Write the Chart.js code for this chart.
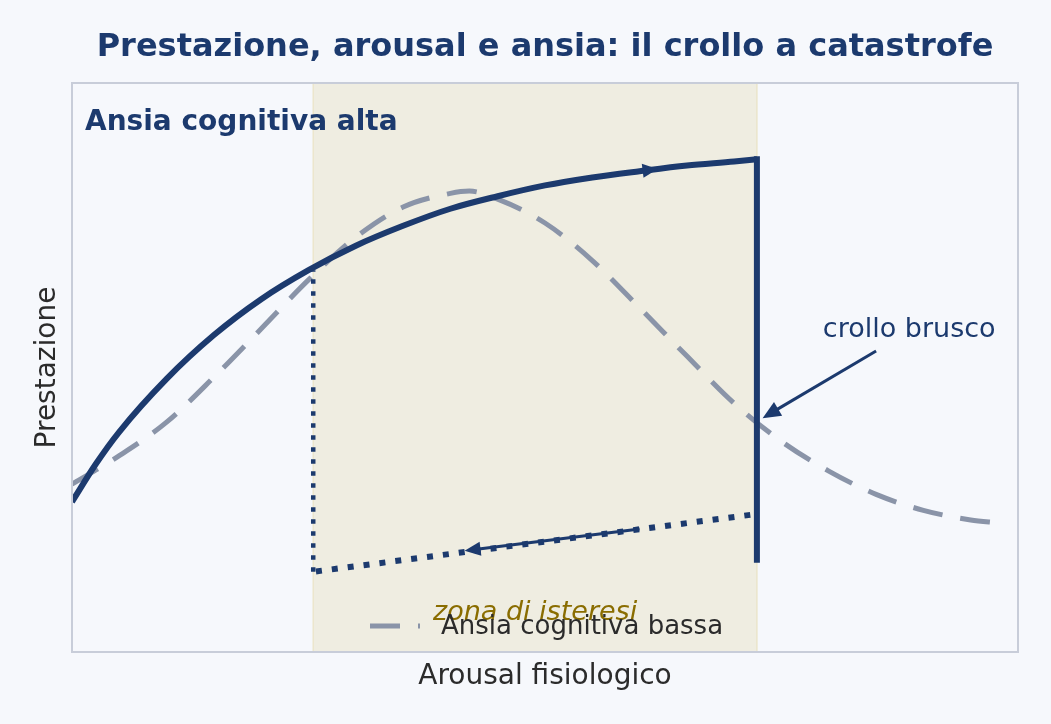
<!DOCTYPE html>
<html>
<head>
<meta charset="utf-8">
<script src="https://cdn.jsdelivr.net/npm/chart.js@4.4.1/dist/chart.umd.min.js"></script>
<style>
  html, body { margin: 0; padding: 0; background: #f6f8fc; }
  #wrap { width: 1051px; height: 724px; position: relative; }
</style>
</head>
<body>
<div id="wrap"><canvas id="chart"></canvas></div>
<script>
// dati (arousal 0-10, prestazione 0-1)
const arousalHigh = [0, 0.25, 0.5, 1.0, 1.5, 2.0, 2.5, 3.0, 3.5, 4.0, 4.5, 5.0, 5.5, 6.0, 6.5, 7.0, 7.24];
const perfHigh = [0.264, 0.330, 0.387, 0.480, 0.557, 0.620, 0.671, 0.714, 0.749, 0.779, 0.801, 0.820, 0.834, 0.845, 0.855, 0.862, 0.866];

const arousalCrash = [7.24, 7.24];
const perfCrash = [0.866, 0.162];

const arousalReturn = [7.17, 2.55];
const perfReturn = [0.241, 0.141];

const arousalJump = [2.55, 2.55];
const perfJump = [0.141, 0.671];

const arousalLow = [0, 0.5, 1.0, 1.5, 2.0, 2.5, 3.0, 3.5, 4.0, 4.2, 4.5, 5.0, 5.5, 6.0, 6.5, 7.0, 7.5, 8.0, 8.5, 9.0, 9.5, 9.79];
const perfLow = [0.295, 0.345, 0.404, 0.483, 0.568, 0.654, 0.729, 0.782, 0.806, 0.810, 0.796, 0.754, 0.688, 0.605, 0.520, 0.437, 0.370, 0.318, 0.277, 0.249, 0.232, 0.227];

const hysteresisZone = [2.55, 7.24];

const navy = '#1c3a6e';
const grey = '#8a94a8';
const font = '"DejaVu Sans", sans-serif';

function pts(xs, ys) {
    return xs.map((x, i) => ({ x: x, y: ys[i] }));
}

function arrowHead(ctx, x1, y1, x2, y2, len, half) {
    const a = Math.atan2(y2 - y1, x2 - x1);
    ctx.beginPath();
    ctx.moveTo(x2, y2);
    ctx.lineTo(x2 - len * Math.cos(a) + half * Math.sin(a), y2 - len * Math.sin(a) - half * Math.cos(a));
    ctx.lineTo(x2 - len * Math.cos(a) - half * Math.sin(a), y2 - len * Math.sin(a) + half * Math.cos(a));
    ctx.closePath();
    ctx.fill();
}

const overlay = {
    id: 'overlay',
    beforeDatasetsDraw(chart) {
        const ctx = chart.ctx;
        const area = chart.chartArea;
        const xs = chart.scales.x;
        ctx.save();
        ctx.fillStyle = '#efede1';
        const x0 = xs.getPixelForValue(hysteresisZone[0]);
        const x1 = xs.getPixelForValue(hysteresisZone[1]);
        ctx.fillRect(x0, area.top, x1 - x0, area.bottom - area.top);
        ctx.strokeStyle = '#ece6cc';
        ctx.lineWidth = 1.5;
        ctx.beginPath();
        ctx.moveTo(x0, area.top); ctx.lineTo(x0, area.bottom);
        ctx.moveTo(x1, area.top); ctx.lineTo(x1, area.bottom);
        ctx.stroke();
        ctx.restore();
    },
    afterDatasetsDraw(chart) {
        const ctx = chart.ctx;
        const area = chart.chartArea;
        const xs = chart.scales.x;
        const ys = chart.scales.y;
        const px = v => xs.getPixelForValue(v);
        const py = v => ys.getPixelForValue(v);
        ctx.save();
        ctx.fillStyle = navy;
        ctx.strokeStyle = navy;

        // freccia sulla curva alta
        arrowHead(ctx, px(6.0), py(0.845), px(6.19), py(0.849), 15, 7);

        // freccia sul ritorno
        ctx.lineWidth = 3;
        ctx.beginPath();
        ctx.moveTo(px(6.0), py(0.216));
        ctx.lineTo(px(4.3), py(0.181));
        ctx.stroke();
        arrowHead(ctx, px(6.0), py(0.216), px(4.15), py(0.178), 16, 7);

        // crollo brusco
        ctx.beginPath();
        ctx.moveTo(px(8.5), py(0.529));
        ctx.lineTo(px(7.45), py(0.426));
        ctx.stroke();
        arrowHead(ctx, px(8.5), py(0.529), px(7.30), py(0.411), 18, 8);

        ctx.textBaseline = 'middle';
        ctx.textAlign = 'center';
        ctx.font = '27px ' + font;
        ctx.fillText('crollo brusco', px(8.85), py(0.566));

        ctx.textAlign = 'left';
        ctx.font = 'bold 28px ' + font;
        ctx.fillText('Ansia cognitiva alta', area.left + 13, area.top + 40);

        ctx.textAlign = 'center';
        ctx.fillStyle = '#8a6d00';
        ctx.font = 'italic 27px ' + font;
        ctx.fillText('zona di isteresi', px((hysteresisZone[0] + hysteresisZone[1]) / 2), py(0.0685));

        // legenda
        ctx.strokeStyle = grey;
        ctx.lineWidth = 5;
        ctx.setLineDash([30, 18]);
        ctx.beginPath();
        ctx.moveTo(370, 626);
        ctx.lineTo(420, 626);
        ctx.stroke();
        ctx.setLineDash([]);
        ctx.fillStyle = '#2b2b2b';
        ctx.textAlign = 'left';
        ctx.font = '26px ' + font;
        ctx.fillText('Ansia cognitiva bassa', 441, 627);

        // cornice
        ctx.strokeStyle = '#c8cdd9';
        ctx.lineWidth = 2;
        ctx.strokeRect(area.left, area.top, area.right - area.left, area.bottom - area.top);

        // titoli assi
        ctx.fillStyle = '#2b2b2b';
        ctx.font = '28px ' + font;
        ctx.textAlign = 'center';
        ctx.fillText('Arousal fisiologico', (area.left + area.right) / 2, 677);
        ctx.translate(48, (area.top + area.bottom) / 2);
        ctx.rotate(-Math.PI / 2);
        ctx.fillText('Prestazione', 0, 0);
        ctx.restore();
    }
};

const ctx = document.getElementById('chart').getContext('2d');
new Chart(ctx, {
    type: 'scatter',
    data: {
        datasets: [
            {
                label: 'Ansia cognitiva alta',
                data: pts(arousalHigh, perfHigh),
                showLine: true,
                borderColor: navy,
                borderWidth: 6,
                cubicInterpolationMode: 'monotone',
                pointRadius: 0,
                borderCapStyle: 'butt'
            },
            {
                label: 'crollo',
                data: pts(arousalCrash, perfCrash),
                showLine: true,
                borderColor: navy,
                borderWidth: 6,
                pointRadius: 0,
                borderCapStyle: 'square'
            },
            {
                label: 'ritorno',
                data: pts(arousalReturn, perfReturn),
                showLine: true,
                borderColor: navy,
                borderWidth: 6,
                borderDash: [6, 10],
                pointRadius: 0,
                borderCapStyle: 'butt'
            },
            {
                label: 'risalita',
                data: pts(arousalJump, perfJump),
                showLine: true,
                borderColor: navy,
                borderWidth: 4.5,
                borderDash: [4.5, 7.5],
                pointRadius: 0,
                borderCapStyle: 'butt'
            },
            {
                label: 'Ansia cognitiva bassa',
                data: pts(arousalLow, perfLow),
                showLine: true,
                borderColor: grey,
                borderWidth: 5,
                borderDash: [30, 18],
                cubicInterpolationMode: 'monotone',
                pointRadius: 0,
                borderCapStyle: 'butt'
            }
        ]
    },
    options: {
        responsive: true,
        maintainAspectRatio: false,
        animation: false,
        layout: { padding: { left: 72, right: 33, top: 0, bottom: 72 } },
        scales: {
            x: { type: 'linear', min: 0, max: 10, display: false },
            y: { type: 'linear', min: 0, max: 1, display: false }
        },
        plugins: {
            legend: { display: false },
            tooltip: { enabled: false },
            title: {
                display: true,
                text: 'Prestazione, arousal e ansia: il crollo a catastrofe',
                color: navy,
                font: { family: font, size: 32, weight: 'bold' },
                padding: { top: 28, bottom: 16.6 }
            }
        }
    },
    plugins: [overlay]
});
</script>
</body>
</html>
